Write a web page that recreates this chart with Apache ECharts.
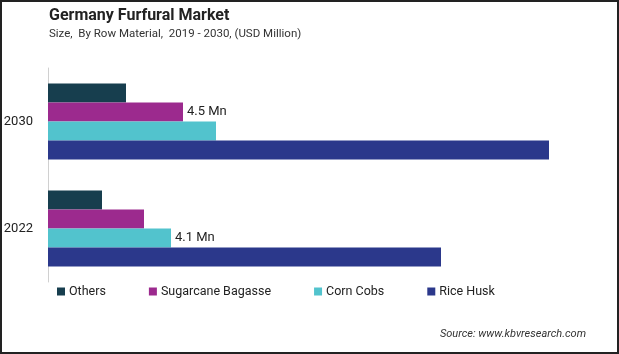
<!DOCTYPE html>
<html>
<head>
<meta charset="utf-8">
<script src="https://cdn.jsdelivr.net/npm/echarts@6/dist/echarts.min.js"></script>
<style>
  html, body { margin: 0; padding: 0; background: #fff; }
  #main { width: 619px; height: 354px; }
</style>
</head>
<body>
<div id="main"></div>
<script>
// years on the category axis (bottom to top)
const years = ['2022', '2030'];

// values in USD Million
const others = [1.8, 2.6];
const sugarcaneBagasse = [3.2, 4.5];
const cornCobs = [4.1, 5.6];
const riceHusk = [13.1, 16.7];

const legendNames = ['Others', 'Sugarcane Bagasse', 'Corn Cobs', 'Rice Husk'];

const chartDom = document.getElementById('main');
const myChart = echarts.init(chartDom);

const font = 'Roboto, "Noto Sans", sans-serif';

function barSeries(name, data, color, labelIdx) {
  return {
    name: name,
    type: 'bar',
    data: data.map(function (v, i) {
      return {
        value: v,
        label: { show: i === labelIdx }
      };
    }),
    barWidth: 19,
    barGap: '0%',
    barCategoryGap: '28%',
    itemStyle: { color: color },
    label: {
      position: 'right',
      distance: 4,
      color: '#222',
      fontSize: 13,
      fontFamily: font,
      formatter: '{c} Mn'
    },
    emphasis: { disabled: true }
  };
}

const option = {
  backgroundColor: '#fff',
  animation: false,
  textStyle: { fontFamily: font },
  title: {
    text: 'Germany Furfural Market',
    subtext: 'Size,  By Row Material,  2019 - 2030, (USD Million)',
    left: 44,
    top: 3,
    itemGap: 4,
    textStyle: { fontSize: 16, fontWeight: 'bold', color: '#222', fontFamily: font },
    subtextStyle: { fontSize: 11.5, color: '#333', fontFamily: font }
  },
  legend: {
    data: legendNames,
    left: 52,
    top: 280,
    itemWidth: 8,
    itemHeight: 8,
    itemGap: 43,
    icon: 'rect',
    textStyle: { fontSize: 12.5, color: '#222', fontFamily: font, padding: [0, 0, 0, -1] }
  },
  grid: {
    left: 48,
    right: 31,
    top: 68,
    height: 214
  },
  xAxis: {
    type: 'value',
    min: 0,
    max: 18,
    show: false
  },
  yAxis: {
    type: 'category',
    data: years,
    axisLine: { show: true, lineStyle: { color: '#d0d0d0', width: 1 } },
    axisTick: { show: false },
    axisLabel: { color: '#222', fontSize: 13, margin: 15, fontFamily: font }
  },
  graphic: [
    {
      type: 'text',
      right: 33,
      top: 329,
      style: {
        text: 'Source: www.kbvresearch.com',
        fontSize: 11,
        fontStyle: 'italic',
        fill: '#333',
        fontFamily: font
      }
    },
    {
      type: 'rect',
      shape: { x: 1, y: 1, width: 617, height: 352 },
      style: { fill: 'none', stroke: '#222', lineWidth: 2 },
      silent: true
    }
  ],
  // first series is drawn on top of each group
  series: [
    barSeries('Others', others, '#173e4e', -1),
    barSeries('Sugarcane Bagasse', sugarcaneBagasse, '#9c2a8e', 1),
    barSeries('Corn Cobs', cornCobs, '#52c3cd', 0),
    barSeries('Rice Husk', riceHusk, '#2b388b', -1)
  ]
};

myChart.setOption(option);
</script>
</body>
</html>
